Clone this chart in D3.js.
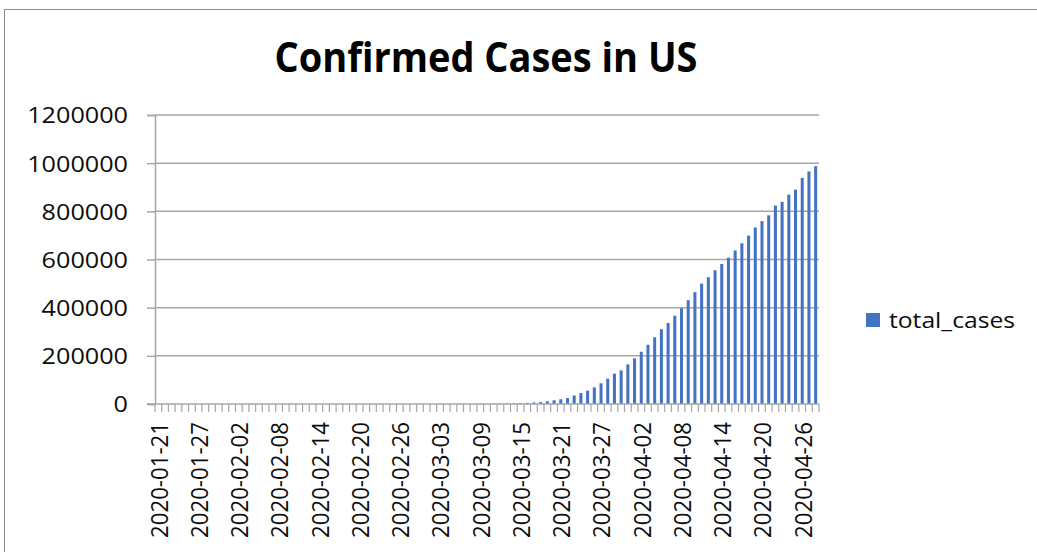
<!DOCTYPE html>
<html>
<head>
<meta charset="utf-8">
<script src="https://cdn.jsdelivr.net/npm/d3@7"></script>
<style>
  body { margin: 0; background: #fff; }
  svg text { font-family: "Open Sans", "DejaVu Sans", sans-serif; }
</style>
</head>
<body>
<svg id="chart" width="1037" height="552"></svg>
<script>
// dates (2020-01-21 .. 2020-04-28) and cumulative US cases
const dates = [
  "2020-01-21","2020-01-22","2020-01-23","2020-01-24","2020-01-25","2020-01-26","2020-01-27","2020-01-28","2020-01-29","2020-01-30","2020-01-31",
  "2020-02-01","2020-02-02","2020-02-03","2020-02-04","2020-02-05","2020-02-06","2020-02-07","2020-02-08","2020-02-09","2020-02-10",
  "2020-02-11","2020-02-12","2020-02-13","2020-02-14","2020-02-15","2020-02-16","2020-02-17","2020-02-18","2020-02-19","2020-02-20",
  "2020-02-21","2020-02-22","2020-02-23","2020-02-24","2020-02-25","2020-02-26","2020-02-27","2020-02-28","2020-02-29",
  "2020-03-01","2020-03-02","2020-03-03","2020-03-04","2020-03-05","2020-03-06","2020-03-07","2020-03-08","2020-03-09","2020-03-10",
  "2020-03-11","2020-03-12","2020-03-13","2020-03-14","2020-03-15","2020-03-16","2020-03-17","2020-03-18","2020-03-19","2020-03-20",
  "2020-03-21","2020-03-22","2020-03-23","2020-03-24","2020-03-25","2020-03-26","2020-03-27","2020-03-28","2020-03-29","2020-03-30","2020-03-31",
  "2020-04-01","2020-04-02","2020-04-03","2020-04-04","2020-04-05","2020-04-06","2020-04-07","2020-04-08","2020-04-09","2020-04-10",
  "2020-04-11","2020-04-12","2020-04-13","2020-04-14","2020-04-15","2020-04-16","2020-04-17","2020-04-18","2020-04-19","2020-04-20",
  "2020-04-21","2020-04-22","2020-04-23","2020-04-24","2020-04-25","2020-04-26","2020-04-27","2020-04-28"
];
const totalCases = [
  1, 1, 1, 2, 2, 5, 5, 5, 5, 5, 6,
  7, 8, 11, 11, 11, 12, 12, 12, 12, 12,
  13, 13, 14, 15, 15, 15, 15, 15, 15, 15,
  35, 35, 35, 53, 53, 59, 60, 62, 62,
  74, 98, 118, 149, 217, 262, 402, 518, 583, 959,
  1281, 1663, 2179, 2726, 3499, 4632, 6421, 7786, 11000, 15500,
  19624, 24500, 35206, 45500, 55231, 69194, 85991, 105500, 126000, 139500, 164620,
  189618, 216721, 246000, 277205, 310500, 336673, 366667, 397505, 431000, 464500,
  500000, 526396, 555313, 581500, 607670, 637500, 667592, 699000, 733000, 759500,
  783500, 824000, 839500, 869170, 890000, 939000, 965785, 987500
];
const yTicks = [0, 200000, 400000, 600000, 800000, 1000000, 1200000];
const seriesName = "total_cases";
const title = "Confirmed Cases in US";

const svg = d3.select("#chart");
const plot = { left: 155, right: 819, top: 115, bottom: 404 };
const barColor = "#4472C4";
const gridColor = "#a6a6a6";
const textColor = "#0d0d0d";

// outer chart border
svg.append("rect")
  .attr("x", 4.5).attr("y", 9.5)
  .attr("width", 1100).attr("height", 600)
  .attr("fill", "none").attr("stroke", "#8c8c8c").attr("stroke-width", 1);

const x = d3.scaleBand()
  .domain(dates)
  .range([plot.left, plot.right])
  .paddingInner(0.55)
  .paddingOuter(0.275);

const y = d3.scaleLinear()
  .domain([0, 1200000])
  .range([plot.bottom, plot.top]);

// gridlines
svg.append("g")
  .selectAll("line")
  .data(yTicks.filter(d => d > 0))
  .join("line")
  .attr("x1", plot.left).attr("x2", plot.right)
  .attr("y1", d => y(d)).attr("y2", d => y(d))
  .attr("stroke", gridColor).attr("stroke-width", 1.5);

// y axis
const yAxis = svg.append("g")
  .attr("transform", `translate(${plot.left},0)`)
  .call(d3.axisLeft(y).tickValues(yTicks).tickSize(8).tickPadding(19).tickFormat(d3.format("d")));
yAxis.select(".domain").attr("stroke", gridColor).attr("stroke-width", 1.5);
yAxis.selectAll(".tick line").attr("stroke", gridColor).attr("stroke-width", 1.5);
yAxis.selectAll(".tick text")
  .attr("fill", textColor)
  .style("font-size", "22px")
  .attr("dy", "0.36em")
  .attr("textLength", d => String(d).length * 14.4)
  .attr("lengthAdjust", "spacingAndGlyphs");

// bars
svg.append("g")
  .selectAll("rect")
  .data(dates.map((d, i) => ({ date: d, value: totalCases[i] })))
  .join("rect")
  .attr("x", d => x(d.date))
  .attr("width", x.bandwidth())
  .attr("y", d => y(d.value))
  .attr("height", d => plot.bottom - y(d.value))
  .attr("fill", barColor);

// x axis: line, a tick at every category boundary, label every 6th day
const step = x.step();
const boundaries = d3.range(dates.length + 1).map(i => plot.left + i * step);
svg.append("line")
  .attr("x1", plot.left - 8).attr("x2", plot.right)
  .attr("y1", plot.bottom).attr("y2", plot.bottom)
  .attr("stroke", gridColor).attr("stroke-width", 1.5);
svg.append("g")
  .selectAll("line")
  .data(boundaries)
  .join("line")
  .attr("x1", d => d).attr("x2", d => d)
  .attr("y1", plot.bottom).attr("y2", plot.bottom + 8)
  .attr("stroke", gridColor).attr("stroke-width", 1.2);

const xAxis = svg.append("g")
  .attr("transform", `translate(0,${plot.bottom})`)
  .call(d3.axisBottom(x).tickValues(dates.filter((d, i) => i % 6 === 0)).tickSize(0));
xAxis.select(".domain").remove();
xAxis.selectAll(".tick text")
  .attr("fill", textColor)
  .style("font-size", "23px")
  .attr("transform", "rotate(-90)")
  .attr("text-anchor", "end")
  .attr("x", -18)
  .attr("y", 1)
  .attr("dy", "0.36em")
  .attr("textLength", 116)
  .attr("lengthAdjust", "spacingAndGlyphs");

// title
svg.append("text")
  .attr("x", 486).attr("y", 72)
  .attr("text-anchor", "middle")
  .attr("fill", "#000")
  .style("font-size", "42px")
  .style("font-weight", "bold")
  .attr("textLength", 423)
  .attr("lengthAdjust", "spacingAndGlyphs")
  .text(title);

// legend
const legend = svg.append("g").attr("transform", "translate(866,313)");
legend.append("rect").attr("width", 14).attr("height", 14).attr("fill", barColor);
legend.append("text")
  .attr("x", 23).attr("y", 7)
  .attr("dy", "0.36em")
  .attr("fill", textColor)
  .style("font-size", "22px")
  .attr("textLength", 126)
  .attr("lengthAdjust", "spacingAndGlyphs")
  .text(seriesName);
</script>
</body>
</html>
